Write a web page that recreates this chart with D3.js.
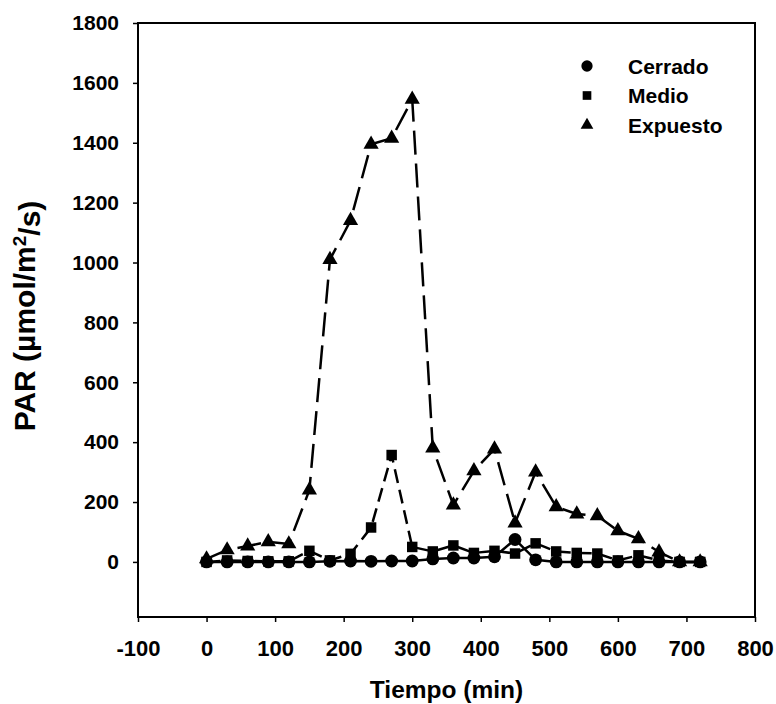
<!DOCTYPE html>
<html><head><meta charset="utf-8">
<script src="https://cdn.jsdelivr.net/npm/d3@7"></script>
<style>body{margin:0;background:#fff}svg{display:block}text{font-family:"Liberation Sans",Arial,sans-serif;font-weight:bold;fill:#000}</style>
</head><body><svg id="c" width="776" height="704"></svg>
<script>
const tiempo = [0,30,60,90,120,150,180,210,240,270,300,330,360,390,420,450,480,510,540,570,600,630,660,690,720];
const cerrado = [0,0,0,0,0,0,2,3,2,3,3,10,13,13,17,75,7,0,0,0,0,0,0,0,0];
const medio = [0,5,3,2,2,37,5,27,115,357,50,35,55,30,37,28,62,35,30,28,5,22,5,0,0];
const expuesto = [10,40,53,67,60,240,1010,1140,1395,1415,1545,380,190,304,377,130,300,184,160,154,104,77,33,0,0];
const xTicks = [-100,0,100,200,300,400,500,600,700,800];
const yTicks = [0,200,400,600,800,1000,1200,1400,1600,1800];
const seriesNames = ["Cerrado","Medio","Expuesto"];

const svg = d3.select("#c");
const L=138,R=755,T=23,B=617;
const x = d3.scaleLinear().domain([-100,800]).range([L,R]);
const y = d3.scaleLinear().domain([-184,1800]).range([B,T]);

const xa = svg.append("g").attr("transform",`translate(0,${B})`)
  .call(d3.axisBottom(x).tickValues(xTicks).tickSize(5).tickPadding(18).tickFormat(d=>String(d)));
const ya = svg.append("g").attr("transform",`translate(${L},0)`)
  .call(d3.axisLeft(y).tickValues(yTicks).tickSize(5).tickPadding(14).tickFormat(d=>String(d)));
[xa,ya].forEach(a=>{a.select(".domain").remove();a.selectAll("line").attr("stroke","#000").attr("stroke-width",1.5);
  a.selectAll("text").attr("fill","#000");});
xa.selectAll("text").style("font-size","22px");
ya.selectAll("text").style("font-size","21px");
svg.append("rect").attr("x",L).attr("y",T).attr("width",R-L).attr("height",B-T)
  .attr("fill","none").attr("stroke","#000").attr("stroke-width",2);

const line = d3.line().x(d=>x(d[0])).y(d=>y(d[1]));
const data = [cerrado,medio,expuesto].map(v=>tiempo.map((t,i)=>[t,v[i]]));
const dashes = [null,"14,7","24,9"];
const syms = [d3.symbolCircle,d3.symbolSquare,d3.symbolTriangle];
const sizes = [130,110,100];
data.forEach((d,i)=>{
  svg.append("path").datum(d).attr("d",line).attr("fill","none").attr("stroke","#000")
    .attr("stroke-width",2.5).attr("stroke-dasharray",dashes[i]);
});
data.forEach((d,i)=>{
  svg.append("g").selectAll("path").data(d).join("path")
    .attr("transform",p=>`translate(${x(p[0])},${y(p[1])})`)
    .attr("d",d3.symbol().type(syms[i]).size(sizes[i])).attr("fill","#000");
});

// legend
seriesNames.forEach((n,i)=>{
  const yy = 66 + i*29.5;
  svg.append("path").attr("transform",`translate(587,${yy})`)
    .attr("d",d3.symbol().type(syms[i]).size([100,75,70][i])).attr("fill","#000");
  svg.append("text").attr("x",628).attr("y",yy).attr("dy","0.36em").style("font-size","21px").text(n);
});

svg.append("text").attr("x",(L+R)/2).attr("y",698).attr("text-anchor","middle").style("font-size","24.5px").text("Tiempo (min)");
const yt = svg.append("text").attr("transform",`translate(35,316) rotate(-90)`).attr("text-anchor","middle").style("font-size","30px");
yt.append("tspan").text("PAR (µmol/m");
yt.append("tspan").attr("dy","-0.45em").style("font-size","19px").text("2");
yt.append("tspan").attr("dy","0.45em").text("/s)");
</script></body></html>
